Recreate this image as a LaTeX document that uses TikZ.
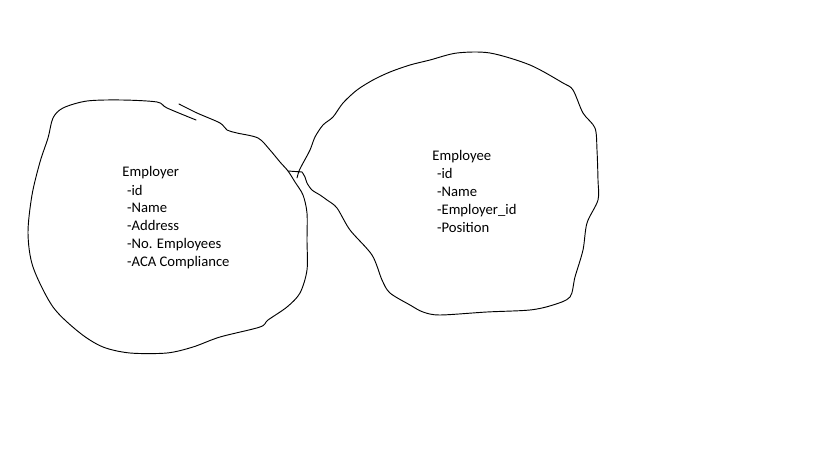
\documentclass[tikz,border=0pt]{standalone}
\usepackage{fontspec}
\setmainfont{Carlito}

\begin{document}
\begin{tikzpicture}[x=0.75pt, y=-0.75pt, line width=0.7pt,
  blobline/.style={draw=black, line join=round, line cap=round},
  entitytext/.style={anchor=base west, inner sep=0pt, font=\fontsize{11}{13.5}\selectfont}]
  \useasboundingbox (0,0) rectangle (819,460);

  % left blob, one stroke round and back up to the top
  \draw[blobline] plot[smooth, tension=0.5] coordinates {
    (196,120) (167,108) (157,102) (122,100) (87,101) (63,108) (53,118)
    (48,138) (40,162) (32,195) (28,233) (33,267) (53,307) (80,333)
    (103,347) (130,353) (167,353) (193,347) (220,337) (260,327) (268,320)
    (287,307) (300,293) (307,270) (307,240) (307,213) (303,195) (295,182)
    (288,171) (280,162) (270,150) (258,138) (237,133) (227,130) (220,123)
    (197,113) (179,104)};

  % right blob
  \draw[blobline] (288,171) -- plot[smooth, tension=0.5] coordinates {
    (302,172) (305,177) (307,183) (312,190) (320,195) (327,200) (337,208)
    (350,230) (372,255) (382,280) (390,293) (410,305) (423,312) (440,315)
    (487,312) (530,310) (553,305) (570,297) (575,277) (583,250) (587,223)
    (598,200) (598,180) (597,150) (595,128) (583,113) (573,90) (563,83)
    (530,65) (490,53) (457,53) (430,60) (410,65) (390,72) (373,80)
    (357,90) (343,103) (333,117) (323,125) (315,137) (310,150) (302,165)
    (299,171) (297,178)};

  \node[entitytext] (employer) at (122,177) {
    \begin{tabular}[t]{@{}l@{}}
      Employer \\
      \hspace{3.5pt}-id \\
      \hspace{3.5pt}-Name \\
      \hspace{3.5pt}-Address \\
      \hspace{3.5pt}-No. Employees \\
      \hspace{3.5pt}-ACA Compliance \\
    \end{tabular}
  };

  \node[entitytext] (employee) at (432,161) {
    \begin{tabular}[t]{@{}l@{}}
      Employee \\
      \hspace{3.5pt}-id \\
      \hspace{3.5pt}-Name \\
      \hspace{3.5pt}-Employer\_id \\
      \hspace{3.5pt}-Position \\
    \end{tabular}
  };
\end{tikzpicture}
\end{document}
